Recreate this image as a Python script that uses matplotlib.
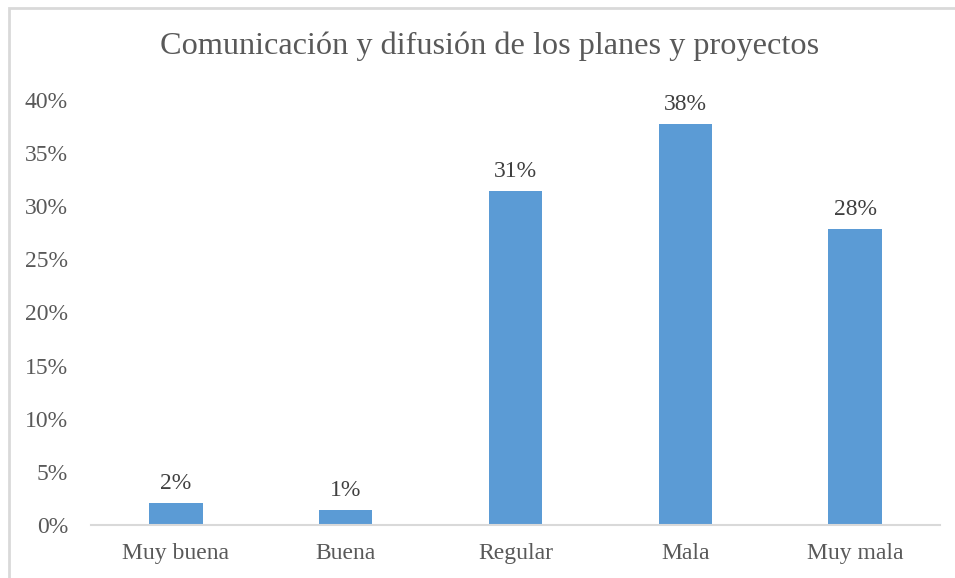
import matplotlib
matplotlib.use("Agg")
import matplotlib.pyplot as plt
from matplotlib.lines import Line2D
from matplotlib.ticker import FuncFormatter

categories = ["Muy buena", "Buena", "Regular", "Mala", "Muy mala"]
values = [0.0209, 0.0139, 0.3144, 0.3774, 0.2790]
labels = ["2%", "1%", "31%", "38%", "28%"]
title = "Comunicación y difusión de los planes y proyectos"

W, H = 955, 578
fig = plt.figure(figsize=(W / 100, H / 100), dpi=100)
plt.rcParams['font.family'] = ['Liberation Serif', 'DejaVu Serif']

# chart area border: only the left and top edges fall inside the picture
x0, y0 = 8.5 / W, 1 - 8.0 / H
fig.add_artist(Line2D([x0, x0, 1.0], [0.0, y0, y0], transform=fig.transFigure,
                      color="#d9d9d9", linewidth=2.0, solid_joinstyle="miter"))

ax = fig.add_axes([91 / W, 1 - 525 / H, (940 - 91) / W, (525 - 100) / H])
x = list(range(len(categories)))
bars = ax.bar(x, values, width=0.315, color="#5b9bd5", zorder=2)
ax.set_xlim(-0.5, len(categories) - 0.5)
ax.set_ylim(0, 0.40)
ax.set_yticks([i * 0.05 for i in range(9)])
ax.yaxis.set_major_formatter(FuncFormatter(lambda v, p: f"{v * 100:.0f}%"))
ax.set_xticks(x)
ax.set_xticklabels(categories)

for s in ["top", "right", "left"]:
    ax.spines[s].set_visible(False)
ax.spines["bottom"].set_color("#d9d9d9")
ax.spines["bottom"].set_linewidth(1.5)
ax.tick_params(axis="both", length=0, labelsize=17, colors="#595959")
ax.tick_params(axis="y", pad=16.5)
ax.tick_params(axis="x", pad=13)

for rect, lab in zip(bars, labels):
    ax.annotate(lab, (rect.get_x() + rect.get_width() / 2, rect.get_height()),
                xytext=(0, 6.5), textcoords="offset points", ha="center", va="bottom",
                fontsize=17, color="#404040")

fig.text(490 / W, 1 - 46 / H, title, ha="center", va="center", fontsize=23.2, color="#595959")

fig.savefig("out.png", dpi=100)
